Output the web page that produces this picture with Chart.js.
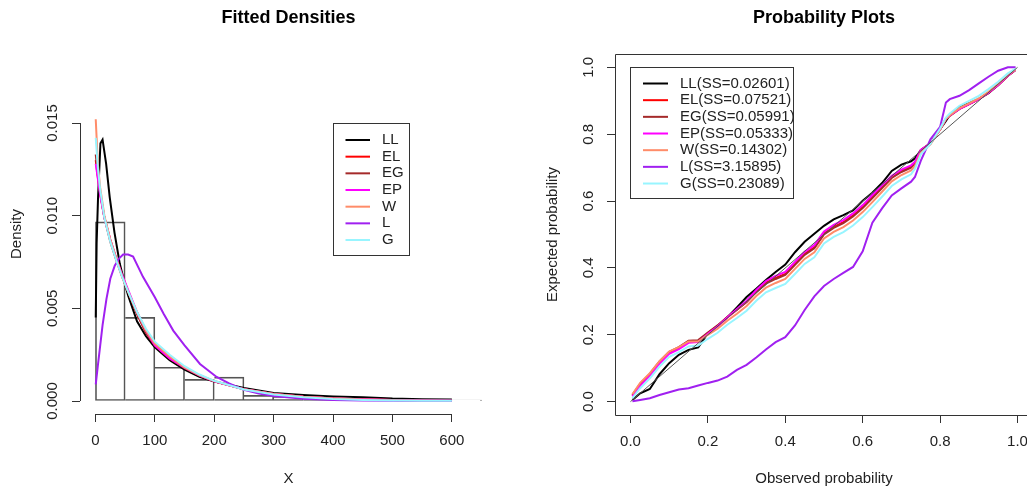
<!DOCTYPE html>
<html>
<head>
<meta charset="utf-8">
<title>Fitted Densities / Probability Plots</title>
<script src="https://cdn.jsdelivr.net/npm/chart.js@4.4.1/dist/chart.umd.min.js"></script>
<style>
    html, body { margin: 0; padding: 0; background: #fff; width: 1027px; height: 489px; overflow: hidden; }
    #leftBox { position: absolute; left: 0; top: 0; width: 513px; height: 489px; }
    #rightBox { position: absolute; left: 513px; top: 0; width: 530px; height: 489px; }
</style>
</head>
<body>
<div id="leftBox"><canvas id="densChart" width="513" height="489"></canvas></div>
<div id="rightBox"><canvas id="ppChart" width="530" height="489"></canvas></div>
<script>
// model names and their colours (same order as the legends)
const modelNames = ['LL', 'EL', 'EG', 'EP', 'W', 'L', 'G'];
const modelColors = ['#000000', '#ff0000', '#a52a2a', '#ff00ff', '#ff8c69', '#a020f0', '#98f5ff'];
const ssValues = [0.02601, 0.07521, 0.05991, 0.05333, 0.14302, 3.15895, 0.23089];

// histogram of X (density scale)
const binEdges = [0, 50, 100, 150, 200, 250, 300, 350, 400, 450, 500, 550, 600, 650];
const binDensity = [0.00967, 0.00451, 0.00182, 0.00117, 0.00129, 0.0003, 0.00025, 0.0002, 0.00015, 0.0001, 0.00005, 0.00005, 0.00005];

// fitted densities
const llX = [0.5, 2, 4.4, 8.4, 12, 18, 24, 32, 41, 48, 55, 70, 85, 100, 125, 150, 175, 200, 250, 300, 350, 400, 450, 500, 550, 600];
const llDens = [0.0045, 0.0085, 0.0110, 0.0139, 0.0141, 0.0128, 0.0110, 0.0091, 0.0074, 0.0065, 0.0057, 0.0043, 0.0035, 0.0029, 0.0022, 0.0017, 0.0013, 0.00105, 0.0007, 0.00043, 0.00033, 0.00025, 0.0002, 0.00013, 0.0001, 0.00008];
const fitX = [0.5, 4, 8, 15, 25, 35, 45, 55, 70, 85, 100, 125, 150, 175, 200, 250, 300, 350, 400, 450, 500, 550, 600];
const elDens = [0.0130, 0.0121, 0.0112, 0.0099, 0.0087, 0.0077, 0.0068, 0.0059, 0.0047, 0.0037, 0.0030, 0.0023, 0.0018, 0.00138, 0.00106, 0.00063, 0.00038, 0.00023, 0.00014, 0.00009, 0.00005, 0.00003, 0.00002];
const egDens = [0.0133, 0.0122, 0.0112, 0.0099, 0.0086, 0.0076, 0.0067, 0.0059, 0.0047, 0.0037, 0.0030, 0.0023, 0.00178, 0.00137, 0.00106, 0.00063, 0.00038, 0.00023, 0.00014, 0.00008, 0.00005, 0.00003, 0.00002];
const epDens = [0.0128, 0.0120, 0.0111, 0.0099, 0.0087, 0.0077, 0.0068, 0.0060, 0.0048, 0.0038, 0.0030, 0.0023, 0.0018, 0.00138, 0.00107, 0.00064, 0.00038, 0.00023, 0.00014, 0.00009, 0.00005, 0.00003, 0.00002];
const wDens = [0.0152, 0.0128, 0.0115, 0.0100, 0.0087, 0.0077, 0.0067, 0.0059, 0.0048, 0.0038, 0.0031, 0.0024, 0.00182, 0.00140, 0.00108, 0.00064, 0.00038, 0.00023, 0.00013, 0.00008, 0.00005, 0.00003, 0.00002];
const gDens = [0.0142, 0.0126, 0.0114, 0.0099, 0.0086, 0.0076, 0.0067, 0.0059, 0.0048, 0.0039, 0.0032, 0.0025, 0.00188, 0.00143, 0.00109, 0.00062, 0.00035, 0.0002, 0.00011, 0.00006, 0.00003, 0.00002, 0.00001];
const lX = [0.5, 4, 7.3, 12, 18.5, 25, 32.5, 40, 46.6, 55, 63.4, 80, 100, 115, 131, 150, 176, 204, 225, 250, 275, 300, 350, 400, 450, 500, 550, 600];
const lDens = [0.0009, 0.0019, 0.0028, 0.0041, 0.0055, 0.0066, 0.0073, 0.0077, 0.0079, 0.0079, 0.0078, 0.0067, 0.0056, 0.0047, 0.0038, 0.0030, 0.0020, 0.0013, 0.00095, 0.0006, 0.0004, 0.00027, 0.00012, 0.00006, 0.00003, 0.00002, 0.00001, 0.00001];

// P-P plot: observed vs expected probability
const ppObs = [0.005, 0.025, 0.05, 0.075, 0.1, 0.125, 0.15, 0.175, 0.2, 0.225, 0.25, 0.275, 0.3, 0.325, 0.35, 0.375, 0.4, 0.425, 0.45, 0.475, 0.5, 0.525, 0.55, 0.575, 0.6, 0.625, 0.65, 0.675, 0.7, 0.725, 0.735, 0.75, 0.775, 0.8, 0.815, 0.825, 0.85, 0.875, 0.9, 0.925, 0.95, 0.975, 0.995];
const ppLL = [0.005, 0.025, 0.038, 0.082, 0.115, 0.14, 0.155, 0.162, 0.205, 0.226, 0.252, 0.282, 0.313, 0.338, 0.364, 0.388, 0.41, 0.447, 0.478, 0.502, 0.526, 0.545, 0.558, 0.572, 0.601, 0.625, 0.654, 0.69, 0.709, 0.719, 0.728, 0.752, 0.773, 0.815, 0.84, 0.858, 0.882, 0.893, 0.906, 0.923, 0.947, 0.975, 0.992];
const ppEL = [0.018, 0.05, 0.08, 0.117, 0.146, 0.16, 0.179, 0.181, 0.205, 0.226, 0.252, 0.275, 0.299, 0.33, 0.356, 0.37, 0.382, 0.412, 0.442, 0.462, 0.503, 0.523, 0.537, 0.557, 0.582, 0.612, 0.642, 0.672, 0.69, 0.703, 0.715, 0.752, 0.773, 0.815, 0.846, 0.856, 0.876, 0.89, 0.905, 0.924, 0.947, 0.975, 0.993];
const ppEG = [0.02, 0.053, 0.083, 0.12, 0.149, 0.163, 0.182, 0.184, 0.207, 0.228, 0.253, 0.275, 0.298, 0.328, 0.353, 0.367, 0.379, 0.409, 0.439, 0.459, 0.5, 0.52, 0.534, 0.554, 0.579, 0.609, 0.639, 0.669, 0.687, 0.7, 0.712, 0.75, 0.772, 0.814, 0.845, 0.855, 0.876, 0.89, 0.905, 0.924, 0.947, 0.975, 0.993];
const ppEP = [0.016, 0.047, 0.077, 0.114, 0.143, 0.157, 0.176, 0.178, 0.203, 0.225, 0.252, 0.277, 0.302, 0.334, 0.361, 0.376, 0.388, 0.418, 0.448, 0.468, 0.509, 0.529, 0.543, 0.563, 0.588, 0.618, 0.647, 0.676, 0.694, 0.707, 0.718, 0.753, 0.773, 0.815, 0.846, 0.856, 0.876, 0.89, 0.905, 0.924, 0.947, 0.975, 0.993];
const ppW = [0.022, 0.056, 0.085, 0.121, 0.15, 0.163, 0.18, 0.18, 0.2, 0.218, 0.242, 0.263, 0.286, 0.316, 0.341, 0.355, 0.367, 0.397, 0.427, 0.447, 0.488, 0.508, 0.522, 0.542, 0.567, 0.597, 0.628, 0.659, 0.678, 0.692, 0.705, 0.745, 0.77, 0.814, 0.846, 0.857, 0.878, 0.892, 0.907, 0.927, 0.95, 0.977, 0.994];
const ppL = [0.001, 0.005, 0.01, 0.02, 0.028, 0.036, 0.04, 0.048, 0.056, 0.063, 0.075, 0.095, 0.11, 0.132, 0.156, 0.178, 0.193, 0.228, 0.274, 0.315, 0.346, 0.367, 0.385, 0.403, 0.45, 0.535, 0.578, 0.617, 0.638, 0.658, 0.672, 0.72, 0.785, 0.822, 0.895, 0.905, 0.915, 0.932, 0.952, 0.972, 0.99, 1.0, 1.0];
const ppG = [0.01, 0.04, 0.07, 0.105, 0.134, 0.148, 0.165, 0.168, 0.188, 0.206, 0.23, 0.25, 0.272, 0.302, 0.327, 0.34, 0.352, 0.382, 0.412, 0.432, 0.473, 0.493, 0.507, 0.527, 0.552, 0.582, 0.613, 0.645, 0.665, 0.68, 0.697, 0.74, 0.771, 0.817, 0.85, 0.862, 0.885, 0.9, 0.915, 0.935, 0.957, 0.982, 0.996];

// tick labels
const densXTicks = [0, 100, 200, 300, 400, 500, 600];
const densYTicks = [0, 0.005, 0.010, 0.015];
const ppTicks = [0, 0.2, 0.4, 0.6, 0.8, 1.0];

const FONT = '"Liberation Sans", Arial, Helvetica, sans-serif';
Chart.defaults.font.family = FONT;
Chart.defaults.font.size = 15;
Chart.defaults.color = '#222';

function pts(xs, ys) {
    return xs.map(function (x, i) { return { x: x, y: ys[i] }; });
}

function curve(idx, xs, ys, order) {
    return {
        type: 'line',
        label: modelNames[idx],
        data: pts(xs, ys),
        borderColor: modelColors[idx],
        borderWidth: 2,
        pointRadius: 0,
        tension: 0,
        fill: false,
        order: order
    };
}

// R-like axis: outward tick marks only, fixed tick values, fixed box size
function rAxis(ticks, fmt, size, tickOpts, extra) {
    const ax = {
        type: 'linear',
        offset: false,
        border: { display: false },
        grid: { drawOnChartArea: false, drawTicks: true, offset: false, tickLength: 8, color: '#333', lineWidth: 1 },
        ticks: Object.assign({ autoSkip: false, callback: fmt }, tickOpts),
        afterBuildTicks: function (scale) {
            scale.ticks = ticks.map(function (v) { return { value: v }; });
        },
        afterFit: function (scale) {
            if (scale.isHorizontal()) scale.height = size; else scale.width = size;
        }
    };
    return Object.assign(ax, extra);
}

// legend box drawn inside the plot, like R's legend()
function boxLegend(labels, box) {
    return {
        id: 'boxLegend',
        afterDatasetsDraw: function (chart) {
            const ctx = chart.ctx;
            ctx.save();
            ctx.fillStyle = '#fff';
            ctx.fillRect(box.left, box.top, box.width, box.height);
            ctx.strokeStyle = '#333';
            ctx.lineWidth = 1;
            ctx.strokeRect(box.left + 0.5, box.top + 0.5, box.width, box.height);
            ctx.font = '15px ' + FONT;
            ctx.textBaseline = 'middle';
            labels.forEach(function (lab, i) {
                const y = box.top + box.firstRow + i * box.rowGap;
                ctx.strokeStyle = modelColors[i];
                ctx.lineWidth = 2;
                ctx.beginPath();
                ctx.moveTo(box.left + box.lineFrom, y);
                ctx.lineTo(box.left + box.lineTo, y);
                ctx.stroke();
                ctx.fillStyle = '#222';
                ctx.fillText(lab, box.left + box.textAt, y);
            });
            ctx.restore();
        }
    };
}

// axis lines: from first to last tick (left panel) or a full box (right panel)
function axisLines(mode) {
    return {
        id: 'axisLines',
        afterDraw: function (chart) {
            const ctx = chart.ctx;
            const a = chart.chartArea;
            const xs = chart.scales.x, ys = chart.scales.y;
            ctx.save();
            ctx.strokeStyle = '#333';
            ctx.lineWidth = 1;
            ctx.beginPath();
            if (mode === 'box') {
                ctx.rect(Math.round(a.left) + 0.5, Math.round(a.top) + 0.5, Math.round(a.right - a.left), Math.round(a.bottom - a.top));
            } else {
                const xl = Math.round(a.left) + 0.5, yb = Math.round(a.bottom) + 0.5;
                ctx.moveTo(xl, ys.getPixelForValue(densYTicks[0]));
                ctx.lineTo(xl, ys.getPixelForValue(densYTicks[densYTicks.length - 1]));
                ctx.moveTo(xs.getPixelForValue(densXTicks[0]), yb);
                ctx.lineTo(xs.getPixelForValue(densXTicks[densXTicks.length - 1]), yb);
            }
            ctx.stroke();
            ctx.restore();
        }
    };
}

function panelTitle(text) {
    return {
        display: true,
        text: text,
        fullSize: false,
        color: '#000',
        font: { size: 18, weight: 'bold' },
        padding: { top: 7, bottom: 25.4 }
    };
}

// ---------- left: Fitted Densities ----------
const histData = binDensity.map(function (d, i) {
    return { x: (binEdges[i] + binEdges[i + 1]) / 2, y: d };
});

new Chart(document.getElementById('densChart'), {
    type: 'line',
    data: {
        datasets: [
            {
                type: 'bar',
                label: 'hist',
                data: histData,
                backgroundColor: 'rgba(0,0,0,0)',
                borderColor: '#555',
                // single-pixel shared edges between neighbouring bins
                borderWidth: function (c) {
                    return { top: 1, right: 1, bottom: 1, left: c.dataIndex === 0 ? 1 : 0 };
                },
                borderSkipped: false,
                barPercentage: 1,
                categoryPercentage: 1,
                order: 9
            },
            curve(0, llX, llDens, 7),
            curve(1, fitX, elDens, 6),
            curve(2, fitX, egDens, 5),
            curve(3, fitX, epDens, 4),
            curve(4, fitX, wDens, 3),
            curve(5, lX, lDens, 2),
            curve(6, fitX, gDens, 1)
        ]
    },
    options: {
        responsive: false,
        animation: false,
        events: [],
        layout: { padding: { left: 0, right: 16, top: 0, bottom: 0 } },
        plugins: {
            legend: { display: false },
            tooltip: { enabled: false },
            title: panelTitle('Fitted Densities')
        },
        scales: {
            x: rAxis(densXTicks, function (v) { return String(v); }, 75, { padding: 10 }, {
                position: 'bottom', min: -26, max: 676,
                title: { display: true, text: 'X', color: '#222', padding: { top: 0, bottom: 1 } }
            }),
            y: rAxis(densYTicks, function (v) { return v.toFixed(3); }, 80,
                { minRotation: 90, maxRotation: 90, crossAlign: 'center', padding: 0 }, {
                position: 'left', min: -0.000701, max: 0.018724,
                title: { display: true, text: 'Density', color: '#222', padding: { top: 8, bottom: 0 } }
            })
        }
    },
    plugins: [axisLines('ticks'), boxLegend(modelNames, {
        left: 333, top: 123, width: 76, height: 132,
        firstRow: 17, rowGap: 16.67, lineFrom: 12.5, lineTo: 37, textAt: 49
    })]
});

// ---------- right: Probability Plots ----------
const ppLabels = modelNames.map(function (n, i) { return n + '(SS=' + ssValues[i].toFixed(5) + ')'; });

new Chart(document.getElementById('ppChart'), {
    type: 'line',
    data: {
        datasets: [
            {
                label: 'diag',
                data: [{ x: 0, y: 0 }, { x: 1, y: 1 }],
                borderColor: '#555',
                borderWidth: 1,
                pointRadius: 0,
                order: 0
            },
            curve(0, ppObs, ppLL, 7),
            curve(1, ppObs, ppEL, 6),
            curve(2, ppObs, ppEG, 5),
            curve(3, ppObs, ppEP, 4),
            curve(4, ppObs, ppW, 3),
            curve(5, ppObs, ppL, 2),
            curve(6, ppObs, ppG, 1)
        ]
    },
    options: {
        responsive: false,
        animation: false,
        events: [],
        layout: { padding: { left: 0, right: 10, top: 0, bottom: 0 } },
        plugins: {
            legend: { display: false },
            tooltip: { enabled: false },
            title: panelTitle('Probability Plots')
        },
        scales: {
            x: rAxis(ppTicks, function (v) { return v.toFixed(1); }, 74, { padding: 10 }, {
                position: 'bottom', min: -0.04, max: 1.04,
                title: { display: true, text: 'Observed probability', color: '#222', padding: { top: 0, bottom: 1 } }
            }),
            y: rAxis(ppTicks, function (v) { return v.toFixed(1); }, 102,
                { minRotation: 90, maxRotation: 90, crossAlign: 'center', padding: 7.6 }, {
                position: 'left', min: -0.04, max: 1.04,
                title: { display: true, text: 'Expected probability', color: '#222', padding: { top: 31, bottom: 0 } }
            })
        }
    },
    plugins: [axisLines('box'), boxLegend(ppLabels, {
        left: 117, top: 67, width: 163, height: 131,
        firstRow: 16.5, rowGap: 16.67, lineFrom: 13, lineTo: 38, textAt: 50
    })]
});
</script>
</body>
</html>
